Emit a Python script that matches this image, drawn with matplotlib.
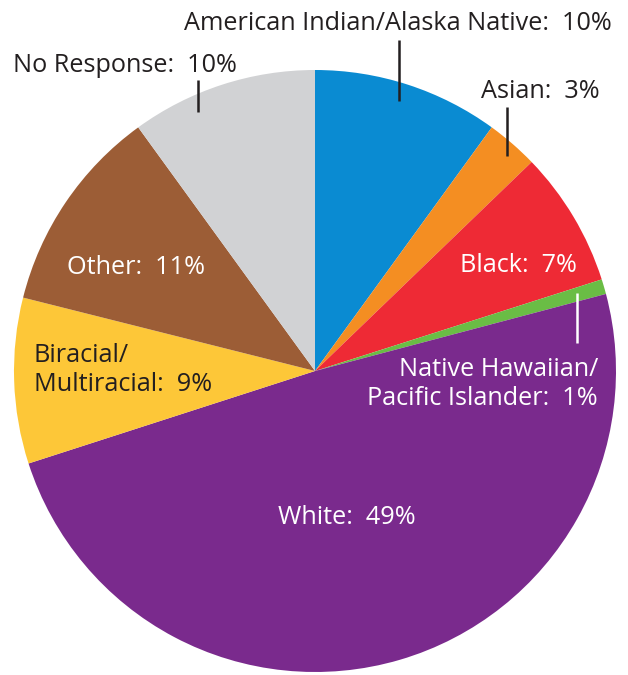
import matplotlib
matplotlib.use('Agg')
import matplotlib.pyplot as plt

# slice values (clockwise from top)
labels = ['American Indian/Alaska Native:  10%', 'Asian:  3%', 'Black:  7%',
          'Native Hawaiian/\nPacific Islander:  1%', 'White:  49%',
          'Biracial/\nMultiracial:  9%', 'Other:  11%', 'No Response:  10%']
values = [10.0, 2.8, 7.3, 0.8, 49.2, 8.9, 11.1, 10.0]
colors = ['#0A8BD2', '#F48E22', '#EE2A35', '#6ABD45', '#7A2A8D',
          '#FDC738', '#9C5D36', '#D1D2D4']

W, H = 628, 675
dark = '#231F20'

fig = plt.figure(figsize=(W / 100, H / 100), dpi=100)
ax = fig.add_axes([0, 0, 1, 1])
ax.pie(values, colors=colors, startangle=90, counterclock=False,
       center=(315, H - 371), radius=301)
ax.set_xlim(0, W)
ax.set_ylim(0, H)
ax.set_aspect('equal')
ax.axis('off')

plt.rcParams['font.family'] = ['Open Sans', 'DejaVu Sans']
fs = 18.2

def label(text, x, y, color=dark, ha='center'):
    ax.text(x, H - y, text, color=color, fontsize=fs, ha=ha, va='center',
            linespacing=1.22)

def leader(x, y0, y1, color=dark):
    ax.plot([x, x], [H - y0, H - y1], color=color, lw=1.8, solid_capstyle='butt')

label(labels[0], 398, 23)
leader(399, 40, 101)
label(labels[1], 540, 92)
leader(507, 107, 156)
label(labels[2], 518, 265, color='white')
label(labels[3], 598, 384, color='white', ha='right')
leader(577, 293, 343, color='white')
label(labels[4], 347, 517, color='white')
label(labels[5], 34, 370, ha='left')
label(labels[6], 136, 268, color='white')
label(labels[7], 125, 65)
leader(198, 80, 112)

fig.savefig('out.png', dpi=100)
